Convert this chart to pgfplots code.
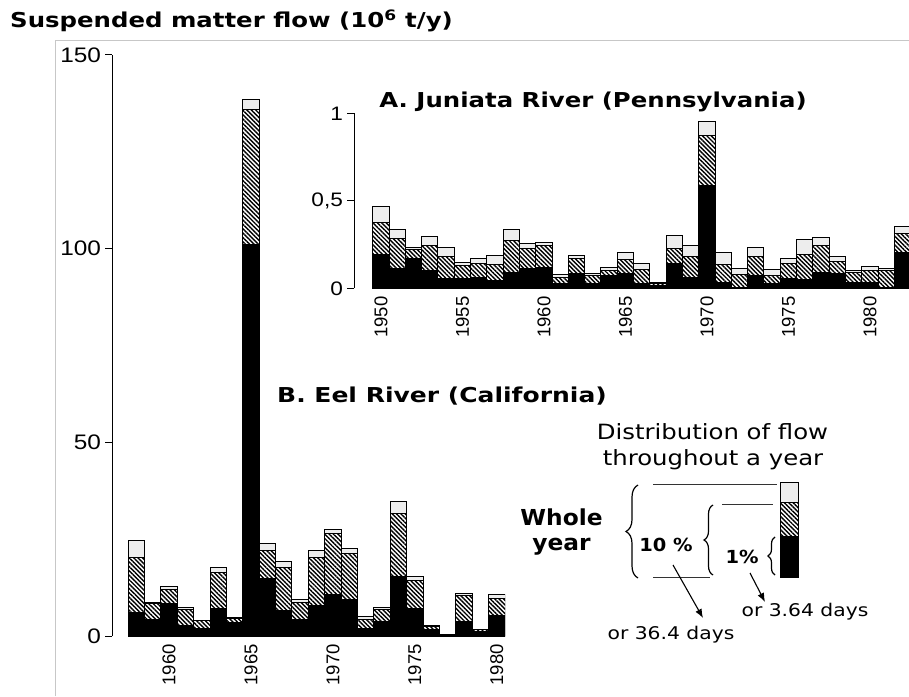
\documentclass[border=0pt]{standalone}
\usepackage{fontspec}
\setmainfont{DejaVu Sans}
\newfontfamily\lib{Liberation Sans}
\usepackage{pgfplots}
\pgfplotsset{compat=1.18}
\usepackage{pgfplotstable}
\usetikzlibrary{patterns.meta,decorations.pathreplacing,arrows.meta}

% Eel River (California), 10^6 t/y : black = 1% of time, hatch = rest of 10%, light = rest of year
\pgfplotstableread{
year black hatch light
1958 6.0 14.3 4.3
1959 4.3 4.1 0.2
1960 8.4 3.7 0.8
1961 2.6 4.3 0.5
1962 2.0 2.0 0.1
1963 7.2 9.2 1.4
1964 3.4 1.2 0.2
1965 101.1 34.7 2.6
1966 14.9 7.2 1.7
1967 6.7 11.1 1.4
1968 4.3 4.3 0.9
1969 7.8 12.5 1.7
1970 10.8 15.7 0.9
1971 9.3 11.9 1.5
1972 2.0 2.3 0.7
1973 3.7 3.2 0.4
1974 15.3 16.2 3.1
1975 7.2 7.1 1.0
1976 1.8 0.6 0.3
1977 0.3 0.1 0.1
1978 3.7 6.7 0.6
1979 1.1 0.5 0.1
1980 5.2 4.6 0.8
}\eel

% Juniata River (Pennsylvania)
\pgfplotstableread{
year black hatch light
1950 0.193 0.184 0.089
1951 0.117 0.168 0.051
1952 0.170 0.052 0.015
1953 0.103 0.142 0.053
1954 0.055 0.128 0.054
1955 0.055 0.077 0.019
1956 0.065 0.080 0.025
1957 0.046 0.092 0.051
1958 0.094 0.181 0.061
1959 0.113 0.114 0.029
1960 0.122 0.125 0.015
1961 0.027 0.038 0.013
1962 0.084 0.086 0.019
1963 0.031 0.044 0.013
1964 0.075 0.025 0.022
1965 0.084 0.080 0.040
1966 0.031 0.076 0.038
1967 0.017 0.014 0.005
1968 0.145 0.086 0.073
1969 0.061 0.124 0.062
1970 0.591 0.286 0.077
1971 0.036 0.102 0.070
1972 0.008 0.072 0.037
1973 0.075 0.110 0.048
1974 0.027 0.048 0.032
1975 0.055 0.086 0.029
1976 0.050 0.143 0.088
1977 0.094 0.153 0.047
1978 0.084 0.071 0.030
1979 0.036 0.054 0.013
1980 0.036 0.064 0.028
1981 0.008 0.092 0.013
1982 0.208 0.105 0.039
}\jun

\pgfplotsset{
  riv/.style={
    scale only axis,
    axis y line*=left, axis x line*=bottom,
    x axis line style={draw=none},
    y axis line style={line width=1pt},
    tick align=outside,
    ybar stacked, bar width=1,
    ymin=0,
    major tick length=7pt, minor tick length=6pt,
    every tick/.style={black, line width=1pt},
    xtick style={draw=none},
    /pgf/number format/assume math mode=true,
    /pgf/number format/1000 sep={},
    x tick label style={font=\lib\fontsize{18.5}{18.5}\selectfont, rotate=90, anchor=east, inner sep=1pt},
  },
  seg1/.style={fill=black, draw=black, line width=1pt},
  seg2/.style={pattern={Lines[angle=-45,distance=3.1pt,line width=1.4pt]}, draw=black, line width=1pt},
  seg3/.style={fill=black!7, draw=black, line width=1pt},
}

\begin{document}
\begin{tikzpicture}[x=1pt,y=1pt]
\useasboundingbox (0,0) rectangle (909,696);
\draw[black!22, line width=0.8pt] (55,0) -- (55,656) -- (909,656);
\node[anchor=base west, font=\bfseries\fontsize{20.5}{24}\selectfont, inner sep=0, xscale=1.19] at (10,668) {Suspended matter flow (10\textsuperscript{6} t/y)};

% B. Eel River
\begin{axis}[riv,
  at={(112pt,60pt)}, anchor=south west,
  width=393pt, height=581pt,
  xmin=1956.52, xmax=1980.5, ymax=150,
  ytick={0,50,100,150},
  y tick label style={font=\lib\fontsize{21}{21}\selectfont, xscale=1.16},
  xtick={1960,1965,...,1980},
  minor xtick={1957.5,1958.5,...,1980.5},
]
\addplot[seg1] table[x=year,y=black]{\eel};
\addplot[seg2] table[x=year,y=hatch]{\eel};
\addplot[seg3] table[x=year,y=light]{\eel};
\end{axis}

% A. Juniata River
\begin{axis}[riv,
  at={(354pt,407.5pt)}, anchor=south west,
  width=555pt, height=175pt,
  xmin=1948.35, xmax=1982.4, ymax=1,
  ytick={0,0.5,1},
  yticklabels={0,{0,5},1},
  y tick label style={font=\lib\fontsize{19.5}{19.5}\selectfont, xscale=1.16},
  xtick={1950,1955,...,1980},
  minor xtick={1949.5,1950.5,...,1982.5},
]
\addplot[seg1] table[x=year,y=black]{\jun};
\addplot[seg2] table[x=year,y=hatch]{\jun};
\addplot[seg3] table[x=year,y=light]{\jun};
\end{axis}

\node[font=\bfseries\fontsize{20.5}{24}\selectfont, xscale=1.19] at (593,594) {A. Juniata River (Pennsylvania)};
\node[font=\bfseries\fontsize{20.5}{24}\selectfont, xscale=1.22] at (442,300) {B. Eel River (California)};

% explanatory key
\node[font=\fontsize{21}{24}\selectfont, xscale=1.16] at (712.5,264) {Distribution of flow};
\node[font=\fontsize{21}{24}\selectfont, xscale=1.16] at (713,236) {throughout a year};
\node[font=\bfseries\fontsize{22}{24}\selectfont, xscale=1.06] at (561.5,179) {Whole};
\node[font=\bfseries\fontsize{22}{24}\selectfont, xscale=1.06] at (561.5,149) {year};
\fill[black] (780,119) rectangle (798,160);
\fill[pattern={Lines[angle=-45,distance=3.1pt,line width=1.4pt]}] (780,160) rectangle (798,193);
\fill[black!7] (780,193) rectangle (798,213);
\draw[line width=1pt] (780,119) rectangle (798,213);
\draw[line width=1pt] (780,160) -- (798,160) (780,193) -- (798,193);
\draw[line width=1.2pt, decorate, decoration={brace, amplitude=12pt}] (638,118) -- (638,211);
\draw[line width=1.2pt, decorate, decoration={brace, amplitude=9pt}] (713,121) -- (713,191);
\draw[line width=1.2pt, decorate, decoration={brace, amplitude=7pt}] (775,121) -- (775,159);
\draw[line width=0.9pt, black!80] (653,212) -- (777,212) (653,119) -- (710,119) (722,192) -- (773,192);
\node[font=\bfseries\fontsize{18}{20}\selectfont, xscale=1.08] at (666,151) {10 \%};
\node[font=\bfseries\fontsize{18}{20}\selectfont, xscale=1.08] at (742,139) {1\%};
\draw[line width=1.1pt, -{Latex[length=9pt,width=7pt]}] (673,131) -- (703,78);
\draw[line width=1.1pt, -{Latex[length=9pt,width=7pt]}] (750,123) -- (765,94);
\node[font=\fontsize{17.5}{20}\selectfont, xscale=1.16] at (671,61) {or 36.4 days};
\node[font=\fontsize{17.5}{20}\selectfont, xscale=1.16] at (805,84) {or 3.64 days};
\end{tikzpicture}
\end{document}
